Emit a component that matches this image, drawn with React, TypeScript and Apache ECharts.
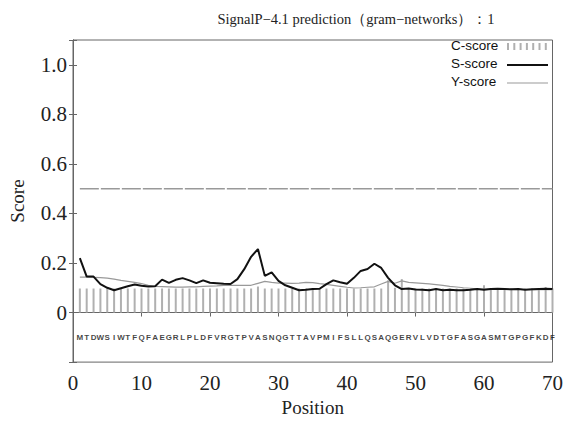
import React, { useEffect, useRef } from "react";
import * as echarts from "echarts";

const sequence = "MTDWSIWTFQFAEGRLPLDFVRGTPVASNQGTTAVPMIFSLLQSAQGERVLVDTGFASGASMTGPGFKDF".split("");

const cScore = [
  0.097, 0.097, 0.097, 0.097, 0.097, 0.097, 0.097, 0.097, 0.097, 0.097,
  0.097, 0.097, 0.097, 0.097, 0.097, 0.097, 0.097, 0.097, 0.097, 0.097,
  0.097, 0.097, 0.097, 0.097, 0.097, 0.097, 0.105, 0.097, 0.097, 0.097,
  0.097, 0.097, 0.097, 0.097, 0.097, 0.097, 0.097, 0.097, 0.097, 0.097,
  0.097, 0.097, 0.097, 0.097, 0.097, 0.13, 0.1, 0.135, 0.097, 0.097,
  0.097, 0.097, 0.097, 0.097, 0.097, 0.097, 0.097, 0.097, 0.097, 0.11,
  0.097, 0.097, 0.097, 0.097, 0.097, 0.097, 0.097, 0.097, 0.103, 0.097,
];

const sScore = [
  0.22, 0.145, 0.145, 0.115, 0.1, 0.09, 0.098, 0.106, 0.113, 0.108,
  0.105, 0.106, 0.133, 0.12, 0.132, 0.139, 0.13, 0.119, 0.13, 0.12,
  0.118, 0.116, 0.115, 0.135, 0.175, 0.225, 0.256, 0.148, 0.162, 0.128,
  0.11, 0.1, 0.09, 0.092, 0.095, 0.096, 0.115, 0.13, 0.122, 0.116,
  0.14, 0.168, 0.176, 0.197, 0.18, 0.14, 0.11, 0.095, 0.097, 0.093,
  0.092, 0.09, 0.095, 0.09, 0.092, 0.09, 0.09, 0.092, 0.095, 0.092,
  0.095, 0.096, 0.095, 0.094, 0.095, 0.092, 0.094, 0.095, 0.096, 0.095,
];

const yScore = [
  0.143, 0.143, 0.142, 0.141, 0.139, 0.135, 0.13, 0.126, 0.122, 0.117,
  0.11, 0.106, 0.105, 0.104, 0.103, 0.103, 0.104, 0.104, 0.106, 0.107,
  0.108, 0.11, 0.11, 0.11, 0.11, 0.11, 0.118, 0.126, 0.122, 0.119,
  0.119, 0.118, 0.119, 0.122, 0.121, 0.117, 0.114, 0.11, 0.106, 0.102,
  0.099, 0.1, 0.102, 0.104, 0.115, 0.126, 0.118, 0.128, 0.122, 0.12,
  0.118, 0.116, 0.113, 0.11, 0.106, 0.103, 0.1, 0.098, 0.096, 0.095,
  0.095, 0.094, 0.094, 0.093, 0.093, 0.093, 0.092, 0.092, 0.092, 0.092,
];

const threshold = 0.5;
const xTicks = [0, 10, 20, 30, 40, 50, 60, 70];
const yTicks = [0, 0.2, 0.4, 0.6, 0.8, 1.0];
const legendNames = ["C-score", "S-score", "Y-score"];
const titleText = "SignalP−4.1 prediction（gram−networks）：1";

const serif = "'Liberation Serif', 'DejaVu Serif', serif";
const sans = "'Liberation Sans', Arial, sans-serif";
const frameColor = "#666";

export default function App() {
  const ref = useRef<HTMLDivElement>(null);
  useEffect(() => {
    if (!ref.current) return;
    const chart = echarts.init(ref.current, null, { renderer: "svg" });
    const pos = (i: number) => i + 1;
    const cData = cScore.map((v, i) => [pos(i), v]);
    const sData = sScore.map((v, i) => [pos(i), v]);
    const yData = yScore.map((v, i) => [pos(i), v]);
    const seqData = sequence.map((c, i) => [pos(i), -0.1]);

    const legendX = 451;
    const legendRows = [46, 64, 82];
    const symX0 = 507;
    const symX1 = 548;
    const graphics: any[] = [];
    legendNames.forEach((n, i) => {
      graphics.push({
        type: "text",
        left: legendX,
        top: legendRows[i] - 8,
        style: { text: n, font: `13.5px ${sans}`, fill: "#111" },
      });
    });
    for (let k = 0; k < 7; k++) {
      graphics.push({
        type: "line",
        shape: { x1: symX0 + 1 + k * 6.3, y1: legendRows[0] - 3, x2: symX0 + 1 + k * 6.3, y2: legendRows[0] + 4 },
        style: { stroke: "#b0b0b0", lineWidth: 2 },
      });
    }
    graphics.push({
      type: "line",
      shape: { x1: symX0, y1: legendRows[1] + 1, x2: symX1, y2: legendRows[1] + 1 },
      style: { stroke: "#111", lineWidth: 2 },
    });
    graphics.push({
      type: "line",
      shape: { x1: symX0, y1: legendRows[2] + 1, x2: symX1, y2: legendRows[2] + 1 },
      style: { stroke: "#999", lineWidth: 1.2 },
    });

    const yLabel = (v: number) => {
      if (v < -0.001 || v > 1.001) return "";
      const hit = yTicks.find((t) => Math.abs(t - v) < 1e-6);
      if (hit === undefined) return "";
      return hit === 0 ? "0" : hit.toFixed(1);
    };

    chart.setOption({
      animation: false,
      backgroundColor: "#fff",
      title: {
        text: titleText,
        left: 351,
        textAlign: "center",
        top: 6,
        textStyle: { fontFamily: serif, fontSize: 14.5, fontWeight: "normal", color: "#222" },
      },
      grid: {
        left: 73,
        right: 8,
        top: 40,
        bottom: 58,
        show: true,
        borderColor: frameColor,
        borderWidth: 1,
        backgroundColor: "#fff",
      },
      xAxis: [
        {
          type: "value",
          min: 0,
          max: 70,
          interval: 10,
          name: "Position",
          nameLocation: "middle",
          nameGap: 34,
          nameTextStyle: { fontFamily: serif, fontSize: 19, color: "#222" },
          axisLine: { show: true, lineStyle: { color: frameColor } },
          axisTick: { show: true, inside: true, length: 4, lineStyle: { color: frameColor } },
          axisLabel: {
            fontFamily: serif,
            fontSize: 21,
            color: "#222",
            margin: 10,
            formatter: (v: number) => (xTicks.includes(v) ? String(v) : ""),
          },
          splitLine: { show: false },
        },
        {
          type: "value",
          position: "top",
          min: 0,
          max: 70,
          interval: 10,
          axisLine: { show: true, lineStyle: { color: frameColor } },
          axisTick: { show: true, inside: true, length: 4, lineStyle: { color: frameColor } },
          axisLabel: { show: false },
          splitLine: { show: false },
        },
      ],
      yAxis: [
        {
          type: "value",
          min: -0.2,
          max: 1.1,
          interval: 0.2,
          name: "Score",
          nameLocation: "middle",
          nameGap: 46,
          nameTextStyle: { fontFamily: serif, fontSize: 19, color: "#222" },
          axisLine: { show: true, lineStyle: { color: frameColor } },
          axisTick: { show: true, inside: true, length: 4, lineStyle: { color: frameColor } },
          axisLabel: { fontFamily: serif, fontSize: 21, color: "#222", margin: 6, formatter: yLabel },
          splitLine: { show: false },
        },
        {
          type: "value",
          position: "right",
          min: -0.2,
          max: 1.1,
          interval: 0.2,
          axisLine: { show: true, lineStyle: { color: frameColor } },
          axisTick: { show: true, inside: true, length: 4, lineStyle: { color: frameColor } },
          axisLabel: { show: false },
          splitLine: { show: false },
        },
      ],
      series: [
        {
          name: "C-score",
          type: "bar",
          data: cData,
          barWidth: 2,
          itemStyle: { color: "#b0b0b0" },
          silent: true,
        },
        {
          name: "threshold",
          type: "line",
          data: [
            [1, threshold],
            [70, threshold],
          ],
          symbol: "none",
          lineStyle: { color: "#999", width: 1.5, type: [19, 2] },
          silent: true,
        },
        {
          name: "Y-score",
          type: "line",
          data: yData,
          symbol: "none",
          lineStyle: { color: "#999", width: 1.2 },
          silent: true,
        },
        {
          name: "S-score",
          type: "line",
          data: sData,
          symbol: "none",
          lineStyle: { color: "#111", width: 2 },
          silent: true,
        },
        {
          name: "sequence",
          type: "scatter",
          data: seqData,
          symbolSize: 0,
          silent: true,
          label: {
            show: true,
            position: "inside",
            formatter: (p: any) => sequence[p.dataIndex],
            fontFamily: sans,
            fontSize: 8,
            fontWeight: "bold",
            color: "#111",
          },
        },
      ],
      graphic: graphics,
    });
    return () => chart.dispose();
  }, []);
  return (
    <div
      ref={ref}
      style={{ position: "fixed", left: 0, top: 0, width: 566, height: 422 }}
    />
  );
}
